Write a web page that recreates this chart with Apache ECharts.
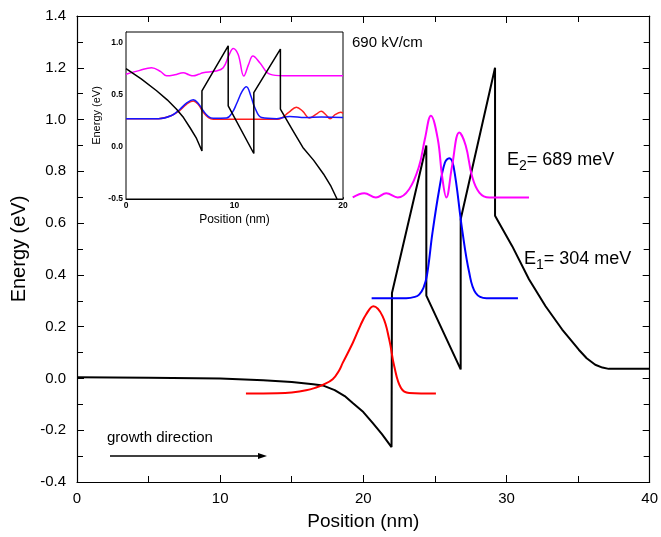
<!DOCTYPE html>
<html><head><meta charset="utf-8">
<script src="https://cdn.jsdelivr.net/npm/echarts@6/dist/echarts.min.js"></script>
<style>html,body{margin:0;padding:0;background:#fff}#c{width:661px;height:537px}</style>
</head><body><div id="c"></div>
<script>
// ---- Main panel data: [position nm, energy eV]
const mainBand = [[0,0.005],[5,0.003],[10,0.0],[13,-0.007],[15,-0.014],[16.5,-0.022],[17.16,-0.027],[18,-0.045],[18.7,-0.068],[19.26,-0.095],[20,-0.13],[20.65,-0.172],[21.3,-0.215],[21.97,-0.265],[22.0,0.33],[24.4,0.90],[24.4,0.32],[26.8,0.035],[26.8,0.615],[29.2,1.2],[29.2,0.628],[30.4,0.511],[31.57,0.383],[32.73,0.279],[33.89,0.189],[34.5,0.148],[35.05,0.111],[35.6,0.078],[36.2,0.053],[36.7,0.042],[37.14,0.037],[40,0.037]];
const mainE0 = [[11.8,-0.058],[14,-0.057],[15,-0.054],[16,-0.046],[16.7,-0.035],[17.2,-0.024],[17.86,-0.003],[18.3,0.03],[18.56,0.06],[19.26,0.137],[19.8,0.205],[20.19,0.247],[20.7,0.279],[21.35,0.24],[21.81,0.15],[22.16,0.047],[22.63,-0.037],[23.2,-0.056],[25.07,-0.058]];
const mainE1 = [[20.58,0.31],[23,0.31],[23.6,0.315],[23.9,0.324],[24.2,0.35],[24.45,0.40],[24.83,0.563],[25.3,0.73],[25.7,0.834],[26.0,0.851],[26.3,0.82],[26.9,0.576],[27.4,0.408],[27.85,0.33],[28.6,0.31],[30.8,0.31]];
const mainE2 = [[19.26,0.699],[20.07,0.715],[20.88,0.699],[21.6,0.715],[22.4,0.699],[23.2,0.731],[23.9,0.821],[24.3,0.925],[24.72,1.015],[25.2,0.925],[25.5,0.782],[25.8,0.699],[26.2,0.821],[26.7,0.95],[27.15,0.9],[27.6,0.78],[28.1,0.718],[28.8,0.699],[31.57,0.699]];
// ---- Inset data
const insetBand = [[0,0.75],[1.4,0.65],[2.82,0.537],[3.8,0.45],[4.66,0.36],[5.3,0.28],[5.89,0.185],[6.5,0.08],[7.0,-0.04],[7.0,0.537],[9.42,0.968],[9.42,0.393],[11.78,-0.064],[11.78,0.52],[14.23,0.936],[14.23,0.36],[15.3,0.17],[16.3,-0.006],[17.3,-0.13],[18.2,-0.26],[18.9,-0.38],[19.45,-0.5]];
const insetE2 = [[0,0.696],[1.2,0.73],[2.36,0.758],[3.2,0.72],[3.74,0.68],[4.5,0.69],[5.28,0.71],[5.8,0.69],[6.2,0.68],[6.7,0.695],[7.1,0.71],[8.3,0.726],[8.96,0.758],[9.5,0.88],[9.88,0.943],[10.34,0.885],[10.86,0.678],[11.3,0.79],[11.7,0.87],[12.33,0.806],[13.25,0.696],[14.5,0.68],[17,0.682],[20,0.68]];
const insetE1 = [[0,0.27],[3,0.27],[4.2,0.3],[4.97,0.36],[5.6,0.42],[6.2,0.45],[6.7,0.41],[7.12,0.345],[7.6,0.29],[8.04,0.274],[9.26,0.276],[9.8,0.33],[10.18,0.41],[10.7,0.53],[11.1,0.575],[11.5,0.49],[11.87,0.377],[12.5,0.28],[13.9,0.27],[15.1,0.29],[16.5,0.28],[18,0.285],[20,0.28]];
const insetE0 = [[0,0.27],[3,0.27],[4.2,0.3],[4.97,0.35],[5.6,0.41],[6.2,0.44],[6.7,0.4],[7.12,0.33],[7.6,0.28],[8.04,0.265],[10,0.265],[12,0.265],[14,0.265],[15.0,0.33],[15.7,0.38],[16.3,0.34],[16.9,0.275],[17.5,0.31],[18,0.34],[18.4,0.31],[18.8,0.27],[19.3,0.31],[19.8,0.33],[20,0.32]];
// ---- Ticks
const mainXTicks = [0,10,20,30,40];
const mainYTicks = [-0.4,-0.2,0.0,0.2,0.4,0.6,0.8,1.0,1.2,1.4];
const insetYTicks = [-0.5,0.0,0.5,1.0];

const FONT = 'Arial, "Liberation Sans", sans-serif';
const chart = echarts.init(document.getElementById('c'), null, {renderer:'canvas'});
const axCommon = {
  axisLine:{show:true, onZero:false, lineStyle:{color:'#000', width:1.2}},
  splitLine:{show:false},
  axisTick:{show:true, inside:true, length:7, lineStyle:{color:'#000', width:1}},
  minorTick:{show:true, splitNumber:2, length:6, lineStyle:{color:'#000', width:1}},
};
const inAx = {
  axisLine:{show:true, onZero:false, lineStyle:{color:'#000', width:1}},
  splitLine:{show:false},
  axisTick:{show:true, inside:true, length:2, lineStyle:{color:'#000', width:0.8}},
  minorTick:{show:true, splitNumber:2, length:2, lineStyle:{color:'#888', width:0.8}},
};
function line(data, color, xi, yi, w, smooth){
  return {type:'line', data, xAxisIndex:xi, yAxisIndex:yi, showSymbol:false, symbol:'none', smooth:smooth,
    lineStyle:{color, width:w}, itemStyle:{color}, animation:false, z:5, clip:true};
}
chart.setOption({
  animation:false,
  backgroundColor:'#fff',
  grid:[
    {left:77, right:10, top:16, bottom:55},
    {left:126, top:32, width:217, height:167, show:true, backgroundColor:'#fff', borderColor:'#000', borderWidth:1, z:3}
  ],
  xAxis:[
    Object.assign({type:'value', gridIndex:0, min:0, max:40, interval:10, position:'bottom',
      name:'Position (nm)', nameLocation:'middle', nameGap:30,
      nameTextStyle:{fontFamily:FONT, fontSize:19, color:'#000'},
      axisLabel:{fontFamily:FONT, fontSize:15, color:'#000', margin:9,
        formatter:v=> mainXTicks.includes(v)? String(v):''}}, axCommon),
    Object.assign({type:'value', gridIndex:0, min:0, max:40, interval:10, position:'top',
      axisLabel:{show:false}}, axCommon),
    Object.assign({type:'value', gridIndex:1, min:0, max:20, interval:10, position:'bottom',
      name:'Position (nm)', nameLocation:'middle', nameGap:15,
      nameTextStyle:{fontFamily:FONT, fontSize:12, color:'#000'},
      axisLabel:{fontFamily:FONT, fontSize:8.5, fontWeight:'bold', color:'#000', margin:2}}, inAx)
  ],
  yAxis:[
    Object.assign({type:'value', gridIndex:0, min:-0.4, max:1.4, interval:0.2, position:'left',
      name:'Energy (eV)', nameLocation:'middle', nameGap:44,
      nameTextStyle:{fontFamily:FONT, fontSize:20, color:'#000'},
      axisLabel:{fontFamily:FONT, fontSize:15, color:'#000', margin:11,
        formatter:v=> mainYTicks.some(t=>Math.abs(t-v)<1e-6)? v.toFixed(1):''}}, axCommon),
    Object.assign({type:'value', gridIndex:0, min:-0.4, max:1.4, interval:0.2, position:'right',
      axisLabel:{show:false}}, axCommon),
    Object.assign({type:'value', gridIndex:1, min:-0.5, max:1.1, interval:0.5, position:'left',
      name:'Energy (eV)', nameLocation:'middle', nameGap:24,
      nameTextStyle:{fontFamily:FONT, fontSize:11, color:'#000'},
      axisLabel:{fontFamily:FONT, fontSize:8.5, fontWeight:'bold', color:'#000', margin:3,
        formatter:v=> insetYTicks.some(t=>Math.abs(t-v)<1e-6)? v.toFixed(1):''}}, inAx, {minorTick:{show:false}})
  ],
  series:[
    line(mainBand,'#000',0,0,2,false),
    line(mainE0,'#ff0000',0,0,2,0.4),
    line(mainE1,'#0000ff',0,0,2,0.4),
    line(mainE2,'#ff00ff',0,0,2,0.4),
    line(insetE0,'#ff2020',2,2,1.5,0.4),
    line(insetE2,'#ff00ff',2,2,1.5,0.4),
    line(insetE1,'#1515ff',2,2,1.5,0.4),
    line(insetBand,'#000',2,2,1.5,false)
  ],
  graphic:[
    {type:'text', left:352, top:35, style:{text:'690 kV/cm', font:'15px '+FONT, fill:'#000'}},
    {type:'text', left:507, top:151, style:{text:'{n|E}{s|2}{n|= 689 meV}', fill:'#000',
      rich:{n:{font:'18px '+FONT, fill:'#000'}, s:{font:'14px '+FONT, fill:'#000', padding:[12,0,0,0]}}}},
    {type:'text', left:524, top:250, style:{text:'{n|E}{s|1}{n|= 304 meV}', fill:'#000',
      rich:{n:{font:'18px '+FONT, fill:'#000'}, s:{font:'14px '+FONT, fill:'#000', padding:[12,0,0,0]}}}},
    {type:'text', left:107, top:430, style:{text:'growth direction', font:'15px '+FONT, fill:'#000'}},
    {type:'line', shape:{x1:110, y1:456, x2:260, y2:456}, style:{stroke:'#000', lineWidth:1.3}},
    {type:'polygon', shape:{points:[[267,456],[258,453],[258,459]]}, style:{fill:'#000'}}
  ]
});
</script></body></html>
